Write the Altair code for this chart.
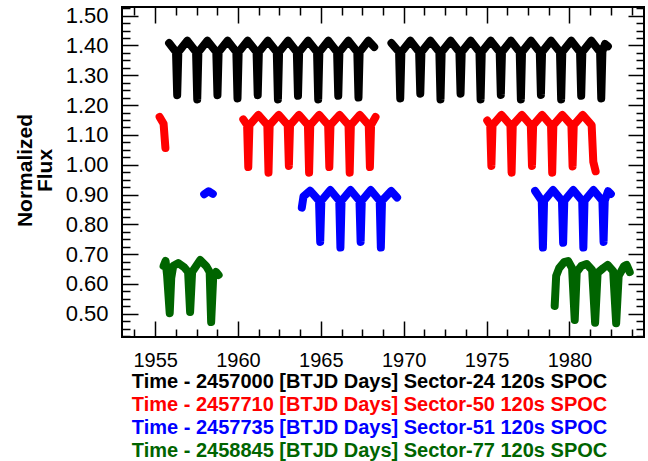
import altair as alt
import pandas as pd

# ---------------- text / categories ----------------
SECTORS = ["Sector-24", "Sector-50", "Sector-51", "Sector-77"]
COLORS = ["#000000", "#ff0000", "#0000ff", "#006400"]
TITLE_LINES = [
    "Time - 2457000 [BTJD Days] Sector-24 120s SPOC",
    "Time - 2457710 [BTJD Days] Sector-50 120s SPOC",
    "Time - 2457735 [BTJD Days] Sector-51 120s SPOC",
    "Time - 2458845 [BTJD Days] Sector-77 120s SPOC",
]
Y_TITLE = ["Normalized", "Flux"]
X_LABELS = [1955, 1960, 1965, 1970, 1975, 1980]
Y_LABELS = [0.50, 0.60, 0.70, 0.80, 0.90, 1.00, 1.10, 1.20, 1.30, 1.40, 1.50]
X_MINOR = [1953.75, 1956.25, 1957.5, 1958.75, 1961.25, 1962.5, 1963.75, 1966.25,
           1967.5, 1968.75, 1971.25, 1972.5, 1973.75, 1976.25, 1977.5, 1978.75,
           1981.25, 1982.5, 1983.75]
Y_MINOR = [0.425, 0.45, 0.475, 0.525, 0.55, 0.575, 0.625, 0.65, 0.675, 0.725, 0.75,
           0.775, 0.825, 0.85, 0.875, 0.925, 0.95, 0.975, 1.025, 1.05, 1.075, 1.125,
           1.15, 1.175, 1.225, 1.25, 1.275, 1.325, 1.35, 1.375, 1.425, 1.45, 1.475,
           1.525]

# ---------------- light-curve vertices (time, offset flux) ----------------
s24_a = [(1955.84, 1.408),
         (1956.26, 1.378), (1956.33, 1.233), (1956.40, 1.378), (1956.94, 1.416),
         (1957.47, 1.378), (1957.54, 1.219), (1957.61, 1.378), (1958.15, 1.416),
         (1958.69, 1.378), (1958.76, 1.233), (1958.83, 1.378), (1959.37, 1.416),
         (1959.90, 1.378), (1959.97, 1.222), (1960.04, 1.378), (1960.58, 1.416),
         (1961.12, 1.378), (1961.19, 1.233), (1961.26, 1.378), (1961.80, 1.416),
         (1962.34, 1.378), (1962.41, 1.219), (1962.48, 1.378), (1963.02, 1.416),
         (1963.55, 1.378), (1963.62, 1.231), (1963.69, 1.378), (1964.23, 1.416),
         (1964.77, 1.378), (1964.84, 1.219), (1964.91, 1.378), (1965.45, 1.416),
         (1965.98, 1.378), (1966.05, 1.231), (1966.12, 1.378), (1966.66, 1.416),
         (1967.20, 1.378), (1967.27, 1.225), (1967.34, 1.378), (1967.87, 1.416),
         (1968.22, 1.395)]
s24_b = [(1969.26, 1.408),
         (1969.72, 1.378), (1969.79, 1.222), (1969.86, 1.378), (1970.40, 1.416),
         (1970.93, 1.378), (1971.00, 1.238), (1971.07, 1.378), (1971.61, 1.416),
         (1972.15, 1.378), (1972.22, 1.219), (1972.29, 1.378), (1972.83, 1.416),
         (1973.36, 1.378), (1973.43, 1.238), (1973.50, 1.378), (1974.04, 1.416),
         (1974.57, 1.378), (1974.64, 1.219), (1974.71, 1.378), (1975.25, 1.416),
         (1975.79, 1.378), (1975.86, 1.234), (1975.93, 1.378), (1976.47, 1.416),
         (1977.00, 1.378), (1977.07, 1.219), (1977.14, 1.378), (1977.68, 1.416),
         (1978.21, 1.378), (1978.28, 1.234), (1978.35, 1.378), (1978.89, 1.416),
         (1979.43, 1.378), (1979.50, 1.219), (1979.57, 1.378), (1980.11, 1.416),
         (1980.64, 1.378), (1980.71, 1.231), (1980.78, 1.378), (1981.32, 1.416),
         (1981.85, 1.378), (1981.92, 1.222), (1981.99, 1.380), (1982.15, 1.405),
         (1982.32, 1.397)]

s50_a = [(1955.27, 1.160), (1955.51, 1.137), (1955.62, 1.056)]
s50_b = [(1960.32, 1.152),
         (1960.55, 1.133), (1960.62, 0.992), (1960.69, 1.133), (1961.23, 1.167),
         (1961.77, 1.133), (1961.84, 0.973), (1961.91, 1.133), (1962.46, 1.167),
         (1963.00, 1.133), (1963.07, 0.996), (1963.14, 1.133), (1963.68, 1.167),
         (1964.22, 1.133), (1964.29, 0.973), (1964.36, 1.133), (1964.90, 1.167),
         (1965.44, 1.133), (1965.51, 0.992), (1965.58, 1.133), (1966.13, 1.167),
         (1966.67, 1.133), (1966.74, 0.973), (1966.81, 1.133), (1967.35, 1.167),
         (1967.89, 1.133), (1967.96, 0.992), (1968.03, 1.133), (1968.30, 1.160)]
s50_c = [(1975.04, 1.148),
         (1975.22, 1.133), (1975.29, 0.996), (1975.36, 1.133), (1975.90, 1.167),
         (1976.44, 1.133), (1976.51, 0.973), (1976.58, 1.133), (1977.13, 1.167),
         (1977.67, 1.133), (1977.74, 0.996), (1977.81, 1.133), (1978.35, 1.167),
         (1978.89, 1.133), (1978.96, 0.973), (1979.03, 1.133), (1979.57, 1.167),
         (1980.12, 1.133), (1980.19, 0.994), (1980.26, 1.133), (1980.80, 1.167),
         (1981.34, 1.133), (1981.44, 1.010), (1981.58, 0.978)]

s51_a = [(1957.96, 0.901), (1958.22, 0.911), (1958.48, 0.902)]
s51_b = [(1963.85, 0.856), (1963.95, 0.893), (1964.35, 0.913),
         (1964.89, 0.879), (1964.96, 0.741), (1965.03, 0.879), (1965.57, 0.915),
         (1966.11, 0.879), (1966.18, 0.722), (1966.25, 0.879), (1966.79, 0.915),
         (1967.33, 0.879), (1967.40, 0.741), (1967.47, 0.879), (1968.01, 0.915),
         (1968.55, 0.879), (1968.62, 0.722), (1968.69, 0.879), (1969.24, 0.912),
         (1969.60, 0.890)]
s51_c = [(1977.93, 0.912),
         (1978.33, 0.879), (1978.40, 0.722), (1978.47, 0.879), (1979.01, 0.915),
         (1979.55, 0.879), (1979.62, 0.738), (1979.69, 0.879), (1980.23, 0.915),
         (1980.77, 0.879), (1980.84, 0.722), (1980.91, 0.879), (1981.45, 0.915),
         (1981.99, 0.879), (1982.06, 0.741), (1982.13, 0.879), (1982.33, 0.911),
         (1982.50, 0.902)]

s77_a = [(1955.51, 0.660), (1955.63, 0.677), (1955.72, 0.630), (1955.88, 0.502),
         (1955.97, 0.620), (1956.09, 0.660), (1956.39, 0.670), (1956.75, 0.656),
         (1956.99, 0.640), (1957.11, 0.506), (1957.23, 0.640), (1957.72, 0.680),
         (1958.08, 0.660), (1958.29, 0.640), (1958.38, 0.472), (1958.50, 0.620),
         (1958.68, 0.640), (1958.83, 0.630)]
s77_b = [(1979.11, 0.526), (1979.20, 0.627), (1979.38, 0.653), (1979.68, 0.673),
         (1979.92, 0.677), (1980.16, 0.653), (1980.32, 0.479), (1980.44, 0.640),
         (1980.71, 0.660), (1981.04, 0.667), (1981.37, 0.647), (1981.55, 0.470),
         (1981.70, 0.637), (1982.04, 0.653), (1982.31, 0.664), (1982.64, 0.643),
         (1982.82, 0.468), (1982.97, 0.627), (1983.30, 0.660), (1983.45, 0.664),
         (1983.64, 0.640)]

SEGMENTS = [
    ("Sector-24", s24_a), ("Sector-24", s24_b),
    ("Sector-50", s50_a), ("Sector-50", s50_b), ("Sector-50", s50_c),
    ("Sector-51", s51_a), ("Sector-51", s51_b), ("Sector-51", s51_c),
    ("Sector-77", s77_a), ("Sector-77", s77_b),
]

rows = []
for k, (sector, seg) in enumerate(SEGMENTS):
    for i, (t, f) in enumerate(seg):
        rows.append({"sector": sector, "seg": k, "i": i, "t": t, "f": f})
df = pd.DataFrame(rows)

# ---------------- chart ----------------
FONT = "Liberation Sans"
W, H = 522, 330
xs = alt.Scale(domain=[1953, 1984.5], nice=False, zero=False)
ys = alt.Scale(domain=[0.422, 1.529], nice=False, zero=False)


def ax(**kw):
    base = dict(domain=False, grid=False, labelFlush=False)
    base.update(kw)
    return alt.Axis(**base)


lines = alt.Chart(df).mark_line(
    strokeWidth=8, strokeCap="round", strokeJoin="round"
).encode(
    x=alt.X("t:Q", scale=xs, axis=ax(
        orient="bottom", values=X_LABELS, ticks=False, tickSize=0, format="d",
        labelFont=FONT, labelFontSize=20, labelColor="black", labelPadding=13,
        title=TITLE_LINES[0], titleColor=COLORS[0], titleFont=FONT,
        titleFontSize=20, titleFontWeight="bold", titleX=247, titleY=50,
        titleAlign="center", titleBaseline="alphabetic")),
    y=alt.Y("f:Q", scale=ys, axis=ax(
        orient="left", values=Y_LABELS, ticks=False, tickSize=0, format=".2f",
        labelFont=FONT, labelFontSize=22, labelColor="black", labelPadding=14,
        title=Y_TITLE, titleColor="black", titleFont=FONT, titleFontSize=21,
        titleFontWeight="bold", titleAngle=270, titleX=-91, titleY=163,
        titleAlign="center", titleBaseline="alphabetic", titleLineHeight=20)),
    color=alt.Color("sector:N", scale=alt.Scale(domain=SECTORS, range=COLORS), legend=None),
    detail="seg:N",
    order="i:Q",
)


def tick_layer(xorient, xvals, yorient, yvals, size):
    return alt.Chart(df).mark_point(opacity=0).encode(
        x=alt.X("t:Q", scale=xs, axis=ax(
            orient=xorient, offset=-H, values=xvals, labels=False,
            tickSize=size, tickWidth=1.5, tickColor="black", title=None)),
        y=alt.Y("f:Q", scale=ys, axis=ax(
            orient=yorient, offset=-W, values=yvals, labels=False,
            tickSize=size, tickWidth=1.5, tickColor="black", title=None)),
    )


def title_layer(idx, ty):
    return alt.Chart(df).mark_point(opacity=0).encode(
        x=alt.X("t:Q", scale=xs, axis=ax(
            orient="bottom", values=X_LABELS, labels=False, ticks=False, tickSize=0,
            title=TITLE_LINES[idx], titleColor=COLORS[idx], titleFont=FONT,
            titleFontSize=20, titleFontWeight="bold", titleX=247, titleY=ty,
            titleAlign="center", titleBaseline="alphabetic")),
        y=alt.Y("f:Q", scale=ys, axis=None),
    )


chart = alt.layer(
    tick_layer("top", X_LABELS, "right", Y_LABELS, 16),
    tick_layer("top", X_MINOR, "right", Y_MINOR, 8),
    tick_layer("bottom", X_LABELS, "left", Y_LABELS, 16),
    tick_layer("bottom", X_MINOR, "left", Y_MINOR, 8),
    title_layer(1, 73),
    title_layer(2, 96),
    title_layer(3, 119),
    lines,
).resolve_scale(
    x="shared", y="shared"
).resolve_axis(
    x="independent", y="independent"
).properties(
    width=W, height=H,
    autosize=alt.AutoSizeParams(type="none"),
    padding={"left": 122, "top": 7, "right": 4, "bottom": 124},
    background="white",
).configure_view(
    stroke="black", strokeWidth=2
)

chart.save("out.html", embed_options={"renderer": "svg", "actions": False})
